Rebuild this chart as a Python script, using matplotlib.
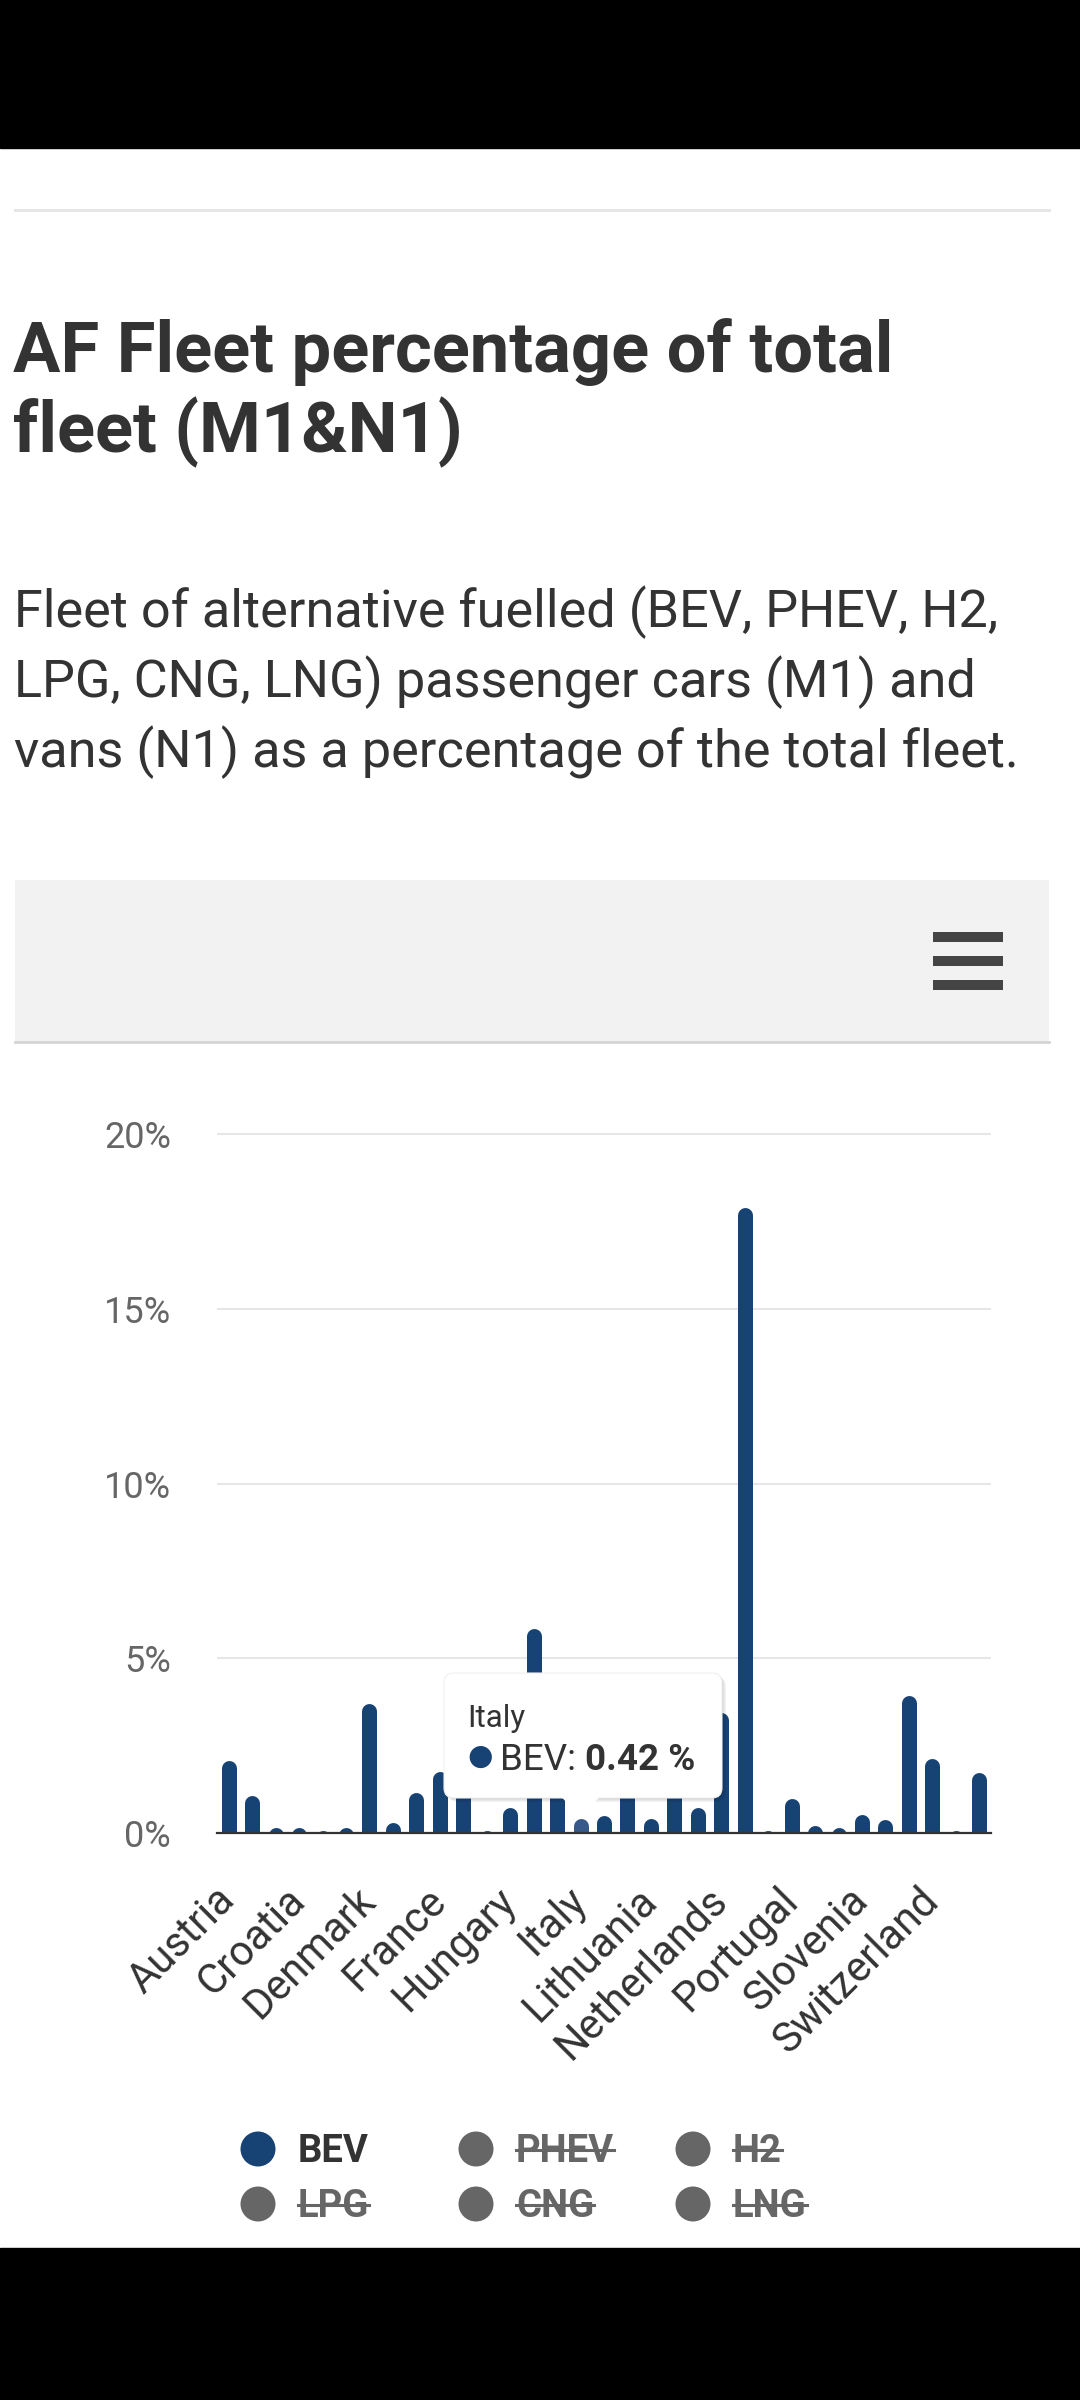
import matplotlib
import matplotlib.pyplot as plt
from matplotlib.lines import Line2D
from matplotlib.patches import Circle, FancyBboxPatch, Polygon, Rectangle

matplotlib.use('Agg')

plt.rcParams['font.family'] = ['Roboto', 'DejaVu Sans']

# Data (BEV share of total M1+N1 fleet, %)
countries = ['Austria', 'Belgium', 'Bulgaria', 'Croatia', 'Cyprus', 'Czechia', 'Denmark',
             'Estonia', 'Finland', 'France', 'Germany', 'Greece', 'Hungary', 'Iceland',
             'Ireland', 'Italy', 'Latvia', 'Liechtenstein', 'Lithuania', 'Luxembourg',
             'Malta', 'Netherlands', 'Norway', 'Poland', 'Portugal', 'Romania', 'Slovakia',
             'Slovenia', 'Spain', 'Sweden', 'Switzerland', 'Turkey', 'United Kingdom']
bev_share = [2.08, 1.07, 0.15, 0.15, 0.08, 0.15, 3.70,
             0.30, 1.15, 1.76, 2.20, 0.07, 0.72, 5.85,
             1.60, 0.42, 0.49, 2.50, 0.41, 2.70,
             0.74, 3.44, 17.90, 0.07, 0.99, 0.22, 0.15,
             0.54, 0.40, 3.93, 2.14, 0.07, 1.73]
label_step = 3
y_ticks = [0, 5, 10, 15, 20]
legend_items = ['BEV', 'PHEV', 'H2', 'LPG', 'CNG', 'LNG']
legend_visible = [True, False, False, False, False, False]
hover_country = 'Italy'

title_lines = ['AF Fleet percentage of total', 'fleet (M1&N1)']
subtitle_lines = ['Fleet of alternative fuelled (BEV, PHEV, H2,',
                  'LPG, CNG, LNG) passenger cars (M1) and',
                  'vans (N1) as a percentage of the total fleet.']

# colours
navy = '#174274'
navy_hover = '#36598a'
text_dark = '#333333'
gray = '#666666'

W, H = 1080, 2400
fig = plt.figure(figsize=(W / 100, H / 100), dpi=100)
tr = fig.dpi_scale_trans


def P(x, y):
    # pixel coords (origin top-left) -> inches for dpi_scale_trans
    return (x / 100, (H - y) / 100)


# black phone bars
fig.add_artist(Rectangle(P(0, 148), W / 100, 148 / 100, color='black', transform=tr))
fig.add_artist(Rectangle(P(0, H), W / 100, (H - 2248) / 100, color='black', transform=tr))

# divider line
fig.add_artist(Line2D([15 / 100, 1049 / 100], [(H - 210) / 100] * 2, color='#e6e6e6',
                      lw=2.2, transform=tr))

# title + subtitle
for i, line in enumerate(title_lines):
    fig.text(*P(13, 372 + i * 80), line, fontsize=50.8, fontweight='bold', color=text_dark,
             va='baseline', ha='left', transform=tr)
for i, line in enumerate(subtitle_lines):
    fig.text(*P(14, 627 + i * 70), line, fontsize=37.6, color=text_dark,
             va='baseline', ha='left', transform=tr)

# menu bar with hamburger
fig.add_artist(Rectangle(P(15, 1042), (1049 - 15) / 100, (1042 - 880) / 100,
                         facecolor='#f2f2f2', edgecolor='none', transform=tr))
fig.add_artist(Line2D([15 / 100, 1049 / 100], [(H - 1042) / 100] * 2, color='#d4d4d4',
                      lw=2, transform=tr))
for yc in (937, 961, 985):
    fig.add_artist(Rectangle(P(933, yc + 5), 70 / 100, 10 / 100, facecolor='#444444',
                             edgecolor='none', transform=tr))

# plot area
left, right, bottom = 217, 991, 1833
y_max = 20.3
px_per = (1833 - 1134) / 20
top = bottom - y_max * px_per
ax = fig.add_axes([left / W, 1 - bottom / H, (right - left) / W, (bottom - top) / H])
ax.set_xlim(-0.5, len(countries) - 0.5)
ax.set_ylim(0, y_max)

bar_px = 15
r_data = (bar_px / 2) / px_per
x = list(range(len(countries)))
colors = [navy_hover if c == hover_country else navy for c in countries]
tops = [v - r_data for v in bev_share]
ax.vlines(x, -2, tops, colors=colors, linewidth=bar_px * 0.72, capstyle='round', zorder=2)

for s in ['top', 'right', 'left']:
    ax.spines[s].set_visible(False)
ax.spines['bottom'].set_color('#333333')
ax.spines['bottom'].set_linewidth(1.6)
ax.spines['bottom'].set_zorder(3)
ax.yaxis.grid(True, color='#e6e6e6', linewidth=1.4)
ax.set_axisbelow(True)

ax.set_yticks(y_ticks, [f'{t}%' for t in y_ticks])
ax.tick_params(axis='y', length=0, pad=33, labelsize=26, labelcolor=gray)
tick_idx = list(range(0, len(countries), label_step))
ax.set_xticks(tick_idx, [countries[i] for i in tick_idx])
ax.tick_params(axis='x', length=0, pad=44, labelsize=30, labelcolor=text_dark)
for lbl in ax.get_xticklabels():
    lbl.set_rotation(45)
    lbl.set_ha('right')
    lbl.set_va('center')
    lbl.set_rotation_mode('anchor')

# tooltip
hi = countries.index(hover_country)
bx0, bx1, by0, by1 = 444, 722, 1673, 1798
tip_x = left + (hi + 0.5) * (right - left) / len(countries)
for off, a in [(4, 0.05), (2.5, 0.07), (1, 0.09)]:
    fig.add_artist(FancyBboxPatch(P(bx0 + off, by1 + off), (bx1 - bx0) / 100,
                                  (by1 - by0) / 100,
                                  boxstyle='round,pad=0,rounding_size=0.1',
                                  facecolor='black', alpha=a, edgecolor='none',
                                  transform=tr, zorder=5))
fig.add_artist(FancyBboxPatch(P(bx0, by1), (bx1 - bx0) / 100, (by1 - by0) / 100,
                              boxstyle='round,pad=0,rounding_size=0.1',
                              facecolor='white', edgecolor='#f0f0f0', lw=0.8,
                              transform=tr, zorder=6))
fig.add_artist(Polygon([P(tip_x - 19, by1 - 1), P(tip_x + 19, by1 - 1), P(tip_x, 1818)],
                       closed=True, facecolor='white', edgecolor='none',
                       transform=tr, zorder=6))
fig.text(*P(467, 1727), hover_country, fontsize=22.5, color=text_dark, va='baseline',
         transform=tr, zorder=7)
fig.text(*P(467, 1757), '\u25cf', fontsize=21, color=navy, va='center',
         transform=tr, zorder=7)
t_lab = fig.text(*P(500, 1770), 'BEV: ', fontsize=26.5, color=text_dark, va='baseline',
                 transform=tr, zorder=7)
renderer = fig.canvas.get_renderer()
ext = t_lab.get_window_extent(renderer)
fig.text(ext.x1 / 100, (H - 1770) / 100, f'{bev_share[hi]:.2f} %', fontsize=26.5,
         fontweight='bold', color=text_dark, va='baseline', transform=tr, zorder=7)

# legend
col_x = [258, 476, 693]
row_y = [2149, 2204]
for i, (name, vis) in enumerate(zip(legend_items, legend_visible)):
    cx = col_x[i % 3]
    cy = row_y[i // 3]
    col = navy if vis else gray
    fig.add_artist(Circle(P(cx, cy), 0.175, facecolor=col, edgecolor='none', transform=tr))
    t = fig.text(*P(cx + 40, cy + 13), name, fontsize=27.5, fontweight='bold',
                 color=text_dark if vis else gray, va='baseline', transform=tr)
    if not vis:
        e = t.get_window_extent(renderer)
        ys = (H - cy - 1) / 100
        fig.add_artist(Line2D([e.x0 / 100, e.x1 / 100], [ys, ys], color=gray, lw=2.2,
                              transform=tr))

fig.savefig('out.png', dpi=100)
